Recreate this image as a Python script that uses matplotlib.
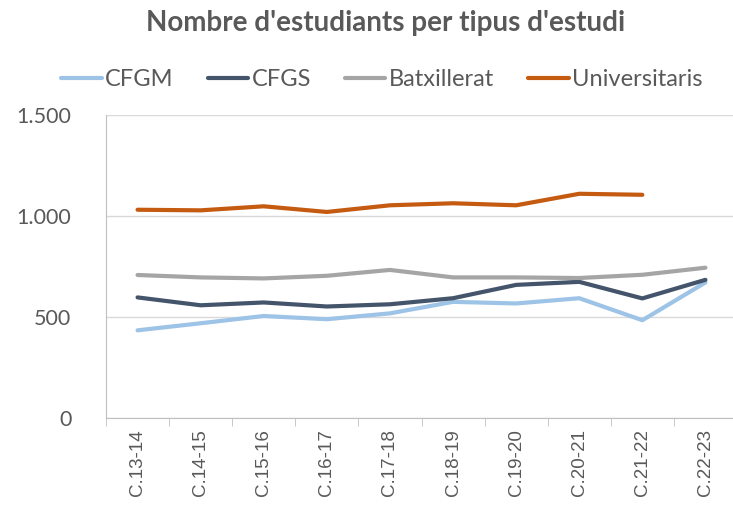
import matplotlib.pyplot as plt
from matplotlib.ticker import FuncFormatter
import numpy as np

cursos = ["C.13-14", "C.14-15", "C.15-16", "C.16-17", "C.17-18",
          "C.18-19", "C.19-20", "C.20-21", "C.21-22", "C.22-23"]
cfgm = [434, 469, 505, 489, 518, 575, 567, 593, 484, 671]
cfgs = [597, 558, 572, 552, 563, 593, 659, 674, 592, 684]
batxillerat = [708, 696, 691, 704, 733, 696, 696, 693, 709, 744]
universitaris = [1031, 1028, 1048, 1020, 1053, 1063, 1053, 1110, 1105, np.nan]

gris = "#595959"

fig = plt.figure(figsize=(7.33, 5.15), dpi=100)
ax = fig.add_axes([106/733, (515-418)/515, (737-106)/733, (418-115)/515])

x = np.arange(len(cursos))
ax.plot(x, cfgm, color="#9dc3e6", lw=3, label="CFGM", solid_capstyle="round")
ax.plot(x, cfgs, color="#44546a", lw=3, label="CFGS", solid_capstyle="round")
ax.plot(x, batxillerat, color="#a5a5a5", lw=3, label="Batxillerat", solid_capstyle="round")
ax.plot(x, universitaris, color="#c55a11", lw=3, label="Universitaris", solid_capstyle="round")

ax.set_xlim(-0.5, len(cursos) - 0.5)
ax.set_ylim(0, 1500)
ax.set_yticks([0, 500, 1000, 1500])
ax.yaxis.set_major_formatter(FuncFormatter(lambda v, p: f"{int(v):,}".replace(",", ".")))
ax.yaxis.grid(True, color="#d9d9d9", lw=1)
ax.set_axisbelow(True)

ax.set_xticks(x)
ax.set_xticklabels(cursos, rotation=90, fontsize=13.5, color=gris, family="Liberation Sans")
ax.set_xticks(np.arange(len(cursos) + 1) - 0.5, minor=True)
ax.tick_params(axis="x", which="major", length=0, pad=8)
ax.tick_params(axis="x", which="minor", length=6, color="#bfbfbf", direction="out")
ax.tick_params(axis="y", length=0, pad=25, labelsize=15.5, labelcolor=gris)
for t in ax.get_yticklabels():
    t.set_family("Lato")

for s in ["top", "right"]:
    ax.spines[s].set_visible(False)
ax.spines["left"].set_color("#bfbfbf")
ax.spines["bottom"].set_color("#bfbfbf")

fig.text(386/733, 1 - 23/515, "Nombre d'estudiants per tipus d'estudi", ha="center", va="center",
         fontsize=20, fontweight="bold", color=gris, family="Lato")

leg = fig.legend(loc="center", bbox_to_anchor=(382/733, 1 - 80/515), ncol=4, frameon=False,
                 prop={"family": "Lato", "size": 17}, handlelength=1.7, handletextpad=0.15,
                 columnspacing=1.45)
for t in leg.get_texts():
    t.set_color(gris)

fig.savefig("out.png", dpi=100)
